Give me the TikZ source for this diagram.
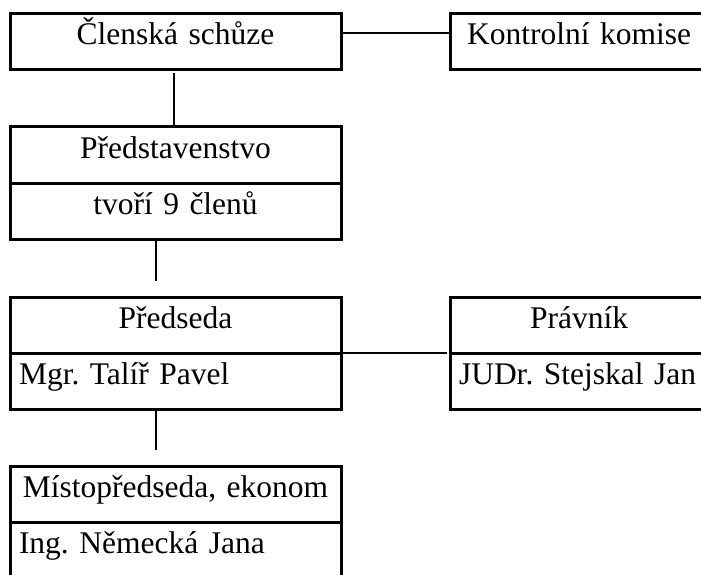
\documentclass[tikz,border=0pt]{standalone}
\usepackage{fontspec}
\setmainfont{Liberation Serif}
\frenchspacing

\begin{document}
\begin{tikzpicture}[x=1pt,y=-1pt,
	box/.style={draw,line width=3pt,outer sep=0pt,anchor=north west,inner xsep=9pt,inner ysep=8pt,text height=23pt,text depth=17pt,font=\fontsize{31.5}{37}\selectfont},
	mid/.style={box,text width=313pt,align=center},
	midl/.style={box,text width=313pt,align=left},
	side/.style={box,text width=240pt,align=center},
	sidel/.style={box,text width=240pt,align=left},
	link/.style={line width=2pt}]
\useasboundingbox (0,0) rectangle (701,575);
\clip (0,0) rectangle (701,575);
\node[mid] (0) at (10,14) {Členská schůze};
\node[side] (1) at (450,14) {Kontrolní komise};
\node[mid] (2) at (10,127) {Představenstvo};
\node[mid] (3) at (2.south west) {tvoří 9 členů};
\node[mid] (4) at (10,297) {Předseda};
\node[midl] (5) at (4.south west) {Mgr. Talíř Pavel};
\node[side] (6) at (450,297) {Právník};
\node[sidel] (7) at (6.south west) {JUDr. Stejskal Jan};
\node[mid] (8) at (10,466) {Místopředseda, ekonom};
\node[midl] (9) at (8.south west) {Ing. Německá Jana};
\coordinate (g1) at (156,281);
\coordinate (g2) at (156,450);
\draw[link] ([yshift=9pt]0.east)--([yshift=9pt]1.west);
\draw[link] ([xshift=-2pt,yshift=-3pt]0.south)--([xshift=-2pt]2.north);
\draw[link] (3.south -| g1)--(g1);
\draw[link] (4.south east)--([xshift=-3pt]6.south west);
\draw[link] ([yshift=-2pt]5.south -| g2)--(g2);
\end{tikzpicture}
\end{document}
